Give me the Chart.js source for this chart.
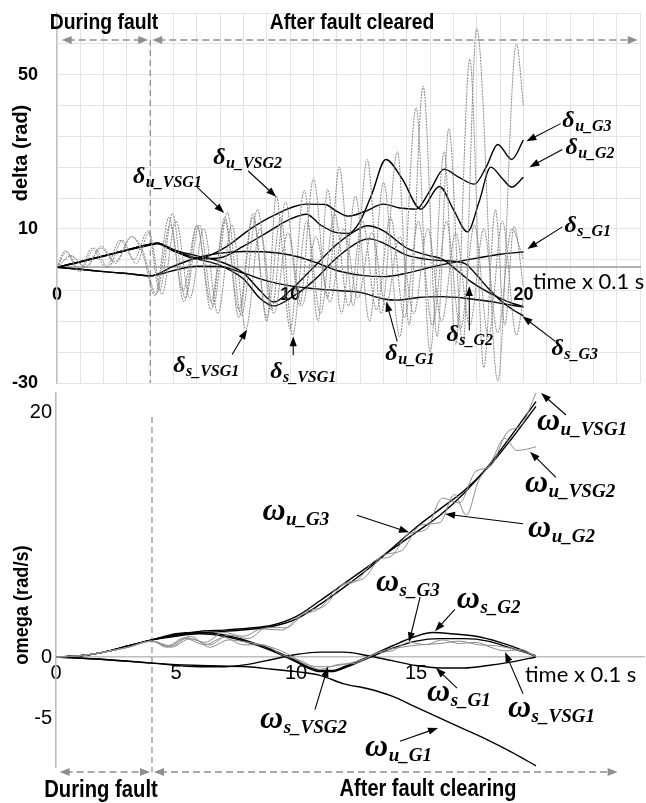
<!DOCTYPE html>
<html><head><meta charset="utf-8">
<script src="https://cdn.jsdelivr.net/npm/chart.js@4.4.0/dist/chart.umd.min.js"></script>
<style>
html,body{margin:0;padding:0;background:#fff;width:646px;height:803px;overflow:hidden}
#c1{position:absolute;left:0;top:0}
#c2{position:absolute;left:0;top:388px}
</style></head><body>
<canvas id="c1" width="646" height="392"></canvas>
<canvas id="c2" width="646" height="415"></canvas>
<script>
// ---------------- DATA : delta (rad) vs time x 0.1 s ----------------
const faultTime = 4;
const deltaTicks = [-30, 10, 50];
const deltaTimeTicks = [0, 10, 20];
const omegaTicks = [-5, 0, 20];
const omegaTimeTicks = [0, 5, 10, 15];

const d_sG1 = [[0,0],[1,-0.5],[2,-1.1],[3,-1.6],[4,-2.2],[5,0.3],[6,2.5],[7,3.7],[8,4.1],[9,4],[10,3.2],[11,1.5],[12,-0.8],[13,-2],[14,-2.4],[15,-1.5],[16,0],[17,1.3],[18,2.4],[19,3.4],[20,4]];
const d_uG1 = [[0,0],[1,-0.5],[2,-1.1],[3,-1.6],[4,-2.2],[5,-0.8],[6,0.3],[7,0.2],[8,-1.5],[9,-3.5],[10,-4.8],[11,-5.5],[12,-6],[13,-6.5],[14,-8.2],[14.6,-8.5],[15.5,-7.8],[16.5,-7.6],[17.5,-8],[18.5,-8.8],[19.3,-9.6],[20,-10.3]];
const d_sG2 = [[0,0],[1,1.5],[2,3],[3,4.5],[4,6],[4.3,6.3],[5,4.5],[6,3],[7,1.5],[8,-1.5],[8.7,-6],[9.3,-9],[10,-6],[11,0],[12,6],[13,10.2],[13.3,10.8],[14,9.5],[15,5],[16,3],[16.5,2.2],[17.2,-1],[17.7,-3.5],[18.5,-6.5],[19.3,-8.8],[20,-10.2]];
const d_sG3 = [[0,0],[1,1.4],[2,2.9],[3,4.4],[4,5.8],[4.3,6.1],[5,4.2],[6,2.2],[7,0.5],[8,-3],[8.7,-8],[9.3,-10],[10,-8],[11,-3.5],[12,2.5],[13,6.8],[13.4,7.4],[14,6.3],[15,3.2],[16,2],[17,1.6],[17.5,1],[18,-2],[18.5,-5.5],[19,-8.5],[19.5,-10.8],[20,-12.6]];
const d_uG2 = [[0,0],[1,1.5],[2,3],[3,4.5],[4,6],[4.3,6.3],[5,4.4],[6,2.2],[7,2.5],[8,5.5],[9,9],[10,12.5],[10.7,13.8],[11.3,11],[12,9],[12.5,8.8],[13,12],[13.5,19],[14.1,28],[14.8,23],[15.6,15.1],[16.4,21],[17,15],[17.6,9.2],[18.1,17],[18.6,26],[19.1,23],[19.5,20.8],[20,23.4]];
const d_uG3 = [[0,0],[1,1.5],[2,3],[3,4.5],[4,6],[4.3,6.3],[5,4.6],[6,2.5],[6.5,3],[7.3,5.5],[8.3,10],[9.3,13.5],[10.7,16.4],[11.5,16.3],[12,14.5],[12.5,13.3],[13.2,14.5],[14,16.4],[14.7,15.4],[15.4,15.1],[16,20],[16.6,25.5],[17.2,23.5],[17.9,21.6],[18.4,26],[18.9,31.9],[19.5,28],[20,33]];
const d_sVSG1 = [[0,0],[0.4,4],[1.0,-1],[1.6,5],[2.2,0],[2.8,7],[3.4,1],[3.95,9],[4.5,-7],[5.1,12],[5.7,-8],[6.3,10],[6.9,-12],[7.5,11],[8.1,-16],[8.7,10],[9.3,-12],[9.9,9],[10.5,-10],[11.1,8],[11.7,-9],[12.3,10],[12.9,-8],[13.5,9],[14.1,-10],[14.7,8],[15.3,-12],[15.9,10],[16.5,-14],[17.1,9],[17.7,-15],[18.3,10],[18.9,-17],[19.5,10],[20,2]];
const d_sVSG2 = [[0,0],[0.6,3],[1.2,0],[1.9,5],[2.5,1],[3.2,8],[3.7,3],[4.2,-7.4],[4.8,13],[5.4,-6],[6.0,11],[6.6,-9],[7.2,13],[7.8,-11],[8.4,14],[9.0,-13],[9.6,13],[10.1,-17.6],[10.7,12],[11.3,-12],[11.9,14],[12.5,-10],[13.1,12],[13.7,-11],[14.3,13],[14.9,-13],[15.5,12],[16.1,-15],[16.7,12],[17.3,-16],[17.9,11],[18.5,-18],[19.1,12],[19.7,-17.6],[20,-8]];
const d_uVSG1 = [[0,0],[0.35,4.3],[0.95,-1],[1.5,5],[2.1,0],[2.7,7],[3.3,2],[3.9,9.5],[4.4,-6],[4.95,14],[5.5,-8],[6.1,11],[6.7,-10],[7.3,14.3],[7.9,-12.5],[8.6,15],[9.2,-11],[9.8,17],[10.4,-10],[11.0,23],[11.6,-8],[12.1,26],[12.7,-10],[13.3,28],[13.9,-12],[14.6,30],[15.1,-15],[15.7,47],[16.3,-18],[16.8,36],[17.4,-20],[18.0,62],[18.9,-29.5],[19.7,58],[20,42]];
const d_uVSG2 = [[0,0],[0.6,3],[1.25,0],[1.9,5.5],[2.5,1.5],[3.2,8],[3.7,4],[4.25,-7],[4.85,11],[5.45,-9],[6.0,10.8],[6.6,-11],[7.2,12],[7.8,-13],[8.4,13],[9.0,-14],[9.4,18.5],[10.0,-16],[10.6,20],[11.2,-14],[11.6,20.3],[12.2,-12],[12.8,18.5],[13.4,-14],[14.0,22],[14.7,-18],[15.4,41.4],[16.0,-22],[16.6,30],[17.1,-20],[17.7,54],[18.3,-26],[18.8,15],[19.2,-15],[19.6,10.7],[20,-5]];

// ---------------- DATA : omega (rad/s) vs time x 0.1 s ----------------
const w_uG3 = [[0,0],[1,0.1],[2,0.4],[3,0.9],[4,1.4],[5,1.8],[6,2.1],[7,2.2],[8,2.35],[9,2.6],[10,3.3],[11,4.6],[12,6.0],[13,7.4],[14,8.8],[15,10.2],[16,11.6],[17,13.4],[18,15.6],[19,18.2],[20,20.9]];
const w_uG2 = [[0,0],[1,0.1],[2,0.4],[3,0.9],[4,1.4],[5,1.7],[6,1.95],[7,2.1],[8,2.25],[9,2.5],[10,3.1],[11,4.3],[12,5.7],[13,7.2],[14,8.9],[15,10.6],[16,12.1],[17,13.6],[18,15.5],[19,17.9],[20,20.5]];
const w_sG2 = [[0,0],[1,0.1],[2,0.4],[3,0.9],[4,1.4],[5,1.9],[6,2.0],[7,1.8],[8,1.3],[9,0.6],[10,-0.3],[10.5,-0.8],[11,-1.1],[11.5,-1.1],[12,-0.8],[13,0],[14,0.9],[15,1.7],[15.7,2.0],[16.5,1.9],[17.5,1.7],[18.5,1.2],[19.5,0.5],[20,0]];
const w_sG3 = [[0,0],[1,0.1],[2,0.4],[3,0.9],[4,1.4],[5,1.8],[6,1.9],[7,1.7],[8,1.2],[9,0.5],[10,-0.4],[10.5,-0.9],[11,-1.2],[11.5,-1.2],[12,-0.9],[13,-0.1],[14,0.7],[15,1.3],[16,1.5],[17,1.5],[18,1.3],[19,0.7],[20,0.1]];
const w_sG1 = [[0,0],[2,-0.2],[4,-0.5],[6,-0.8],[7,-0.8],[8,-0.6],[9,-0.2],[10,0.2],[11,0.4],[12,0.4],[13,0.1],[14,-0.3],[15,-0.7],[16,-0.9],[17,-0.9],[18,-0.7],[19,-0.4],[20,0]];
const w_uG1 = [[0,0],[2,-0.2],[4,-0.5],[6,-0.7],[8,-0.8],[9,-1.0],[10,-1.2],[11,-1.5],[12,-2.2],[13,-2.6],[14,-3.2],[15,-4.1],[16,-5.0],[17,-5.9],[18,-6.8],[19,-7.8],[20,-8.9]];
const w_uVSG1 = [[0,0],[1,0.1],[2,0.4],[3,0.8],[4,1.3],[4.6,0.9],[5.4,1.6],[6.2,1.2],[7,2.0],[7.8,1.7],[8.6,2.3],[9.4,2.2],[10.2,3.4],[11,4.0],[11.8,5.8],[12.5,6.2],[13.3,7.9],[14,8.3],[14.7,10.1],[15.4,10.4],[16.1,13.0],[16.8,12.6],[17.5,15.2],[18.1,15.6],[18.8,18.4],[19.4,19.0],[20,21.6]];
const w_uVSG2 = [[0,0],[1,0.1],[2,0.4],[3,0.8],[4,1.3],[4.8,0.8],[5.6,1.5],[6.4,1.0],[7.2,1.8],[8,1.5],[8.8,2.4],[9.6,2.4],[10.4,3.7],[11.2,4.2],[12,6.0],[12.8,6.4],[13.6,8.3],[14.4,8.7],[15.2,10.8],[16,11.0],[16.6,13.3],[17.1,11.6],[17.6,14.4],[18.1,15.8],[18.7,17.9],[19.2,16.9],[19.6,17.0],[20,17.2]];
const w_sVSG1 = [[0,0],[1,0.1],[2,0.4],[3,0.8],[4,1.3],[4.6,0.8],[5.4,1.5],[6.2,1.0],[7.0,1.6],[7.8,1.0],[8.6,1.0],[9.4,0.2],[10.2,-0.3],[11,-1.0],[11.8,-0.6],[12.5,-0.5],[13.3,0.3],[14,0.5],[14.7,1.2],[15.4,1.0],[16.1,1.4],[16.8,1.1],[17.5,1.2],[18.1,0.8],[18.7,0.5],[19.4,0.6],[20,0]];
const w_sVSG2 = [[0,0],[1,0.1],[2,0.4],[3,0.8],[4,1.3],[4.8,0.9],[5.6,1.7],[6.4,0.8],[7.2,1.4],[8,1.2],[8.8,0.9],[9.6,0.3],[10.4,-0.6],[11.2,-0.8],[12,-0.6],[12.8,-0.2],[13.6,0.5],[14.4,0.8],[15.2,1.0],[16,1.1],[16.8,1.3],[17.6,1.0],[18.4,0.9],[19.2,0.6],[20,0.1]];

// annotation labels: text anchor and arrow, in data units
const deltaNotes = [
 {sym:'δ', sub:'u_VSG1', at:[3.26,21.8], from:[6.01,20.8], to:[7.17,14.1]},
 {sym:'δ', sub:'u_VSG2', at:[6.70,26.8], from:[8.20,25.0], to:[9.40,18.3]},
 {sym:'δ', sub:'u_G3', at:[21.67,36.3], from:[21.6,37.3], to:[20.13,32.7]},
 {sym:'δ', sub:'u_G2', at:[21.80,29.4], from:[21.67,30.6], to:[20.26,26.0]},
 {sym:'δ', sub:'s_G1', at:[21.76,9.2], from:[21.67,10.5], to:[20.17,4.8]},
 {sym:'δ', sub:'s_VSG1', at:[4.98,-27.2], from:[7.51,-22.6], to:[8.15,-16.1]},
 {sym:'δ', sub:'s_VSG1', at:[9.14,-28.7], from:[10.13,-22.8], to:[10.13,-17.9]},
 {sym:'δ', sub:'u_G1', at:[14.08,-24.1], from:[14.59,-19.2], to:[14.12,-8.9]},
 {sym:'δ', sub:'s_G2', at:[16.70,-19.2], from:[17.68,-16.4], to:[17.68,-4.8]},
 {sym:'δ', sub:'s_G3', at:[21.20,-22.8], from:[21.37,-19.2], to:[19.96,-12.7]}
];
const omegaNotes = [
 {sym:'ω', sub:'u_VSG1', at:[20.04,18.6], from:[21.25,19.8], to:[20.21,21.6]},
 {sym:'ω', sub:'u_VSG2', at:[19.54,13.5], from:[20.83,14.7], to:[19.75,16.8]},
 {sym:'ω', sub:'u_G3', at:[8.6,11.2], from:[12.54,11.6], to:[14.71,10.2]},
 {sym:'ω', sub:'u_G2', at:[19.67,9.8], from:[19.46,10.9], to:[16.21,11.7]},
 {sym:'ω', sub:'s_G3', at:[13.33,5.4], from:[15.17,4.9], to:[14.71,1.2]},
 {sym:'ω', sub:'s_G2', at:[16.70,4.0], from:[16.62,3.9], to:[15.79,2.1]},
 {sym:'ω', sub:'s_G1', at:[15.46,-3.6], from:[16.71,-2.55], to:[15.83,-0.9]},
 {sym:'ω', sub:'s_VSG1', at:[18.83,-4.9], from:[19.46,-3.0], to:[18.71,0.4]},
 {sym:'ω', sub:'s_VSG2', at:[8.5,-5.8], from:[10.79,-4.3], to:[11.33,-0.8]},
 {sym:'ω', sub:'u_G1', at:[12.88,-8.1], from:[14.33,-6.9], to:[15.92,-5.8]}
];

// ---------------- helpers ----------------
const SANS = "'Liberation Sans',Arial,sans-serif";
const SERIF = "'Liberation Serif','Times New Roman',serif";
const pts = a => a.map(p => ({x:p[0], y:p[1]}));
function blackDs(a){return {data:pts(a), borderColor:'#000', borderWidth:1.4, pointRadius:0, cubicInterpolationMode:'monotone', fill:false};}
function grayDs(a, color, dash){return {data:pts(a), borderColor:color, borderWidth:1, borderDash:dash||[], pointRadius:0, cubicInterpolationMode:'monotone', fill:false};}
function noPad(s){ s.paddingTop = 0; s.paddingBottom = 0; s.paddingLeft = 0; s.paddingRight = 0; }

function arrowHead(ctx, x1, y1, x2, y2, len, half){
  const a = Math.atan2(y2-y1, x2-x1);
  ctx.beginPath();
  ctx.moveTo(x2, y2);
  ctx.lineTo(x2 - len*Math.cos(a) + half*Math.sin(a), y2 - len*Math.sin(a) - half*Math.cos(a));
  ctx.lineTo(x2 - len*Math.cos(a) - half*Math.sin(a), y2 - len*Math.sin(a) + half*Math.cos(a));
  ctx.closePath(); ctx.fill();
}
function arrow(ctx, x1, y1, x2, y2){
  ctx.save(); ctx.strokeStyle='#000'; ctx.fillStyle='#000'; ctx.lineWidth=1.1;
  const a = Math.atan2(y2-y1, x2-x1);
  ctx.beginPath(); ctx.moveTo(x1,y1); ctx.lineTo(x2-6*Math.cos(a), y2-6*Math.sin(a)); ctx.stroke();
  arrowHead(ctx, x1,y1,x2,y2, 10, 3.6);
  ctx.restore();
}
function spanArrow(ctx, x1, x2, y){
  ctx.save(); ctx.strokeStyle='#8f8f8f'; ctx.fillStyle='#8f8f8f'; ctx.lineWidth=1.4;
  ctx.setLineDash([7,4]);
  ctx.beginPath(); ctx.moveTo(x1+6,y); ctx.lineTo(x2-6,y); ctx.stroke();
  ctx.setLineDash([]);
  arrowHead(ctx, x2, y, x1, y, 10, 4);
  arrowHead(ctx, x1, y, x2, y, 10, 4);
  ctx.restore();
}
function narrowText(ctx, txt, cx, y, font, sx){
  ctx.save(); ctx.font = font; ctx.textAlign='center'; ctx.textBaseline='alphabetic'; ctx.fillStyle='#000';
  ctx.translate(cx, y); ctx.scale(sx, 1); ctx.fillText(txt, 0, 0); ctx.restore();
}
function drawNotes(chart, notes, symPx, subPx, subDy){
  const ctx = chart.ctx, xs = chart.scales.x, ys = chart.scales.y;
  ctx.save();
  ctx.fillStyle = '#000'; ctx.textAlign='left'; ctx.textBaseline='alphabetic';
  notes.forEach(n => {
    const x = xs.getPixelForValue(n.at[0]), y = ys.getPixelForValue(n.at[1]);
    ctx.font = `italic bold ${symPx}px ${SERIF}`;
    ctx.fillText(n.sym, x, y);
    const w = ctx.measureText(n.sym).width;
    ctx.font = `italic bold ${subPx}px ${SERIF}`;
    ctx.fillText(n.sub, x + w + 0.5, y + subDy);
    arrow(ctx, xs.getPixelForValue(n.from[0]), ys.getPixelForValue(n.from[1]),
               xs.getPixelForValue(n.to[0]), ys.getPixelForValue(n.to[1]));
  });
  ctx.restore();
}
function faultLine(chart, yTop, yBot){
  const ctx = chart.ctx, x = chart.scales.x.getPixelForValue(faultTime);
  ctx.save(); ctx.strokeStyle='#8a8a8a'; ctx.lineWidth=1.2; ctx.setLineDash([6,4]);
  ctx.beginPath(); ctx.moveTo(x, yTop); ctx.lineTo(x, yBot); ctx.stroke(); ctx.restore();
}

// ---------------- top chart ----------------
const topPlugin = {
  id:'topDeco',
  beforeDatasetsDraw(chart){
    const a = chart.chartArea;
    faultLine(chart, a.top + 27, a.bottom);
  },
  afterDraw(chart){
    const ctx = chart.ctx, a = chart.chartArea, xs = chart.scales.x;
    const xf = xs.getPixelForValue(faultTime);
    spanArrow(ctx, xs.getPixelForValue(0.2), xf - 2, a.top + 27);
    spanArrow(ctx, xf + 2, xs.getPixelForValue(24.9), a.top + 27);
    narrowText(ctx, 'During fault', 104, 29, `bold 22px ${SANS}`, 0.88);
    narrowText(ctx, 'After fault cleared', 352, 29, `bold 22px ${SANS}`, 0.88);
    ctx.save();
    ctx.fillStyle='#000'; ctx.textAlign='left'; ctx.textBaseline='alphabetic';
    ctx.font = `22px Lato,'Open Sans',sans-serif`;
    ctx.fillText('time x 0.1 s', 533, 289);
    ctx.translate(21, 153); ctx.rotate(-Math.PI/2);
    ctx.textAlign='center'; ctx.textBaseline='middle';
    ctx.font = `bold 21px ${SANS}`;
    ctx.scale(0.95, 1);
    ctx.fillText('delta (rad)', 0, 0);
    ctx.restore();
    drawNotes(chart, deltaNotes, 24, 16, 4);
  }
};

const topGray = '#868686';
new Chart(document.getElementById('c1'), {
  type:'line',
  data:{datasets:[
    grayDs(d_sVSG1,topGray,[2,1]), grayDs(d_sVSG2,topGray,[2,1]), grayDs(d_uVSG1,topGray,[2,1]), grayDs(d_uVSG2,topGray,[2,1]),
    blackDs(d_sG1), blackDs(d_uG1), blackDs(d_sG2), blackDs(d_sG3), blackDs(d_uG2), blackDs(d_uG3)
  ]},
  options:{
    responsive:false, animation:false, events:[],
    layout:{padding:{left:0,right:6,top:13,bottom:9}},
    plugins:{legend:{display:false}, tooltip:{enabled:false}},
    scales:{
      x:{type:'linear', min:0, max:25, position:{y:0},
         afterFit(s){ s.height = 0; noPad(s); },
         grid:{color:'#e4e4e4', lineWidth:1, drawTicks:false},
         border:{display:true, color:'#b4b4b4', width:2},
         ticks:{stepSize:1, autoSkip:false, maxRotation:0, padding:17, color:'#000',
                font:{family:SANS, size:18, weight:'bold'},
                callback:v => deltaTimeTicks.includes(v) ? String(v) : ''}},
      y:{type:'linear', min:-30, max:66,
         afterFit(s){ s.width = 57; noPad(s); },
         grid:{color:'#e4e4e4', lineWidth:1, drawTicks:false},
         border:{display:true, color:'#c4c4c4', width:1.5},
         ticks:{stepSize:8, autoSkip:false, padding:19, color:'#000',
                font:{family:SANS, size:18, weight:'bold'},
                callback:v => deltaTicks.includes(v) ? String(v) : ''}}
    }
  },
  plugins:[topPlugin]
});

// ---------------- bottom chart ----------------
const botPlugin = {
  id:'botDeco',
  beforeDatasetsDraw(chart){
    const a = chart.chartArea;
    faultLine(chart, 29, a.bottom + 5);
  },
  afterDraw(chart){
    const ctx = chart.ctx, a = chart.chartArea, xs = chart.scales.x;
    const xf = xs.getPixelForValue(faultTime);
    spanArrow(ctx, xs.getPixelForValue(0.15), xf - 2, a.bottom + 5);
    spanArrow(ctx, xf + 2, xs.getPixelForValue(23.4), a.bottom + 5);
    narrowText(ctx, 'During fault', 101, 409, `bold 23px ${SANS}`, 0.88);
    narrowText(ctx, 'After fault clearing', 428, 408, `bold 23px ${SANS}`, 0.87);
    ctx.save();
    ctx.fillStyle='#000'; ctx.textAlign='left'; ctx.textBaseline='alphabetic';
    ctx.font = `22px Lato,'Open Sans',sans-serif`;
    ctx.fillText('time x 0.1 s', 525, 294);
    ctx.translate(22, 217); ctx.rotate(-Math.PI/2);
    ctx.textAlign='center'; ctx.textBaseline='middle';
    ctx.font = `bold 20px ${SANS}`;
    ctx.scale(0.91, 1);
    ctx.fillText('omega (rad/s)', 0, 0);
    ctx.restore();
    drawNotes(chart, omegaNotes, 32, 19, 5);
  }
};

const botGray = '#8c8c8c';
new Chart(document.getElementById('c2'), {
  type:'line',
  data:{datasets:[
    grayDs(w_sVSG1,botGray), grayDs(w_sVSG2,botGray), grayDs(w_uVSG1,botGray), grayDs(w_uVSG2,botGray),
    blackDs(w_sG1), blackDs(w_uG1), blackDs(w_sG2), blackDs(w_sG3), blackDs(w_uG2), blackDs(w_uG3)
  ]},
  options:{
    responsive:false, animation:false, events:[],
    layout:{padding:{left:0,right:2,top:5,bottom:36}},
    plugins:{legend:{display:false}, tooltip:{enabled:false}},
    scales:{
      x:{type:'linear', min:0, max:24.5, position:{y:0},
         afterFit(s){ s.height = 0; noPad(s); },
         grid:{display:false, drawTicks:false},
         border:{display:true, color:'#bdbdbd', width:1.6},
         ticks:{stepSize:5, autoSkip:false, maxRotation:0, padding:4, color:'#000',
                font:{family:SANS, size:20},
                callback:v => omegaTimeTicks.includes(v) ? String(v) : ''}},
      y:{type:'linear', min:-9, max:21.6,
         afterFit(s){ s.width = 56; noPad(s); },
         grid:{display:false, drawTicks:false},
         border:{display:true, color:'#bdbdbd', width:1.6},
         ticks:{stepSize:5, autoSkip:false, includeBounds:false, padding:4, color:'#000',
                font:{family:SANS, size:20},
                callback:v => omegaTicks.includes(v) ? String(v) : ''}}
    }
  },
  plugins:[botPlugin]
});
</script></body></html>
